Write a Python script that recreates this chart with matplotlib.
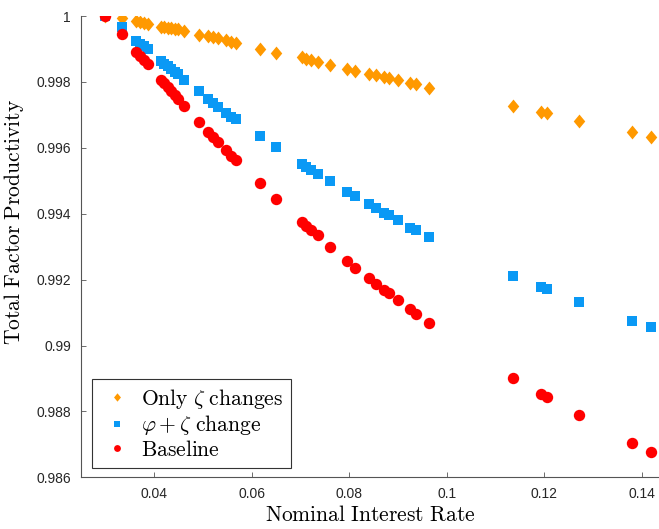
import matplotlib
matplotlib.use("Agg")
import matplotlib.pyplot as plt
from matplotlib.ticker import FormatStrFormatter
import numpy as np

plt.rcParams["mathtext.fontset"] = "cm"
plt.rcParams["font.family"] = ["Liberation Sans", "DejaVu Sans"]

# nominal interest rate (shared by all three series)
rate = [0.0300, 0.03355, 0.03641, 0.03713, 0.03795, 0.03877, 0.04143, 0.04215,
        0.04287, 0.04359, 0.04430, 0.04492, 0.04625, 0.04932, 0.05117, 0.05209,
        0.05311, 0.05486, 0.05588, 0.05680, 0.06172, 0.06500, 0.07033, 0.07125,
        0.07227, 0.07371, 0.07607, 0.07955, 0.08119, 0.08406, 0.08559, 0.08713,
        0.08826, 0.09010, 0.09246, 0.09379, 0.09645, 0.11363, 0.11924, 0.12047,
        0.12703, 0.13789, 0.14178]

tfp_zeta = [1.0, 0.99993, 0.99985, 0.99982, 0.99979, 0.99976, 0.99968, 0.99967,
            0.99965, 0.99964, 0.99962, 0.99961, 0.99954, 0.99942, 0.99939, 0.99936,
            0.99932, 0.99926, 0.99921, 0.99917, 0.99899, 0.99889, 0.99875, 0.99871,
            0.99866, 0.99860, 0.99851, 0.99839, 0.99833, 0.99825, 0.99821, 0.99815,
            0.99812, 0.99806, 0.99798, 0.99793, 0.99783, 0.99727, 0.99708, 0.99705,
            0.99682, 0.99647, 0.99633]

tfp_phi_zeta = [1.0, 0.99968, 0.99924, 0.99916, 0.99909, 0.99900, 0.99862, 0.99854,
                0.99847, 0.99839, 0.99831, 0.99824, 0.99806, 0.99771, 0.99748, 0.99736,
                0.99725, 0.99705, 0.99695, 0.99689, 0.99636, 0.99603, 0.99552, 0.99543,
                0.99534, 0.99520, 0.99500, 0.99466, 0.99453, 0.99428, 0.99416, 0.99403,
                0.99396, 0.99380, 0.99358, 0.99350, 0.99330, 0.99211, 0.99178, 0.99171,
                0.99132, 0.99074, 0.99055]

tfp_base = [1.0, 0.99945, 0.99892, 0.99880, 0.99868, 0.99854, 0.99807, 0.99797,
            0.99784, 0.99772, 0.99760, 0.99748, 0.99728, 0.99678, 0.99649, 0.99634,
            0.99619, 0.99592, 0.99576, 0.99564, 0.99492, 0.99446, 0.99375, 0.99364,
            0.99352, 0.99335, 0.99300, 0.99256, 0.99235, 0.99205, 0.99188, 0.99170,
            0.99158, 0.99137, 0.99112, 0.99097, 0.99069, 0.98902, 0.98854, 0.98844,
            0.98788, 0.98705, 0.98677]

labels = [r"$\mathrm{Only}\ \zeta\ \mathrm{changes}$",
          r"$\varphi+\zeta\ \mathrm{change}$",
          r"$\mathrm{Baseline}$"]

# slightly narrow diamond like MATLAB's
diamond = [(0, 1), (0.83, 0), (0, -1), (-0.83, 0), (0, 1)]

fig = plt.figure(figsize=(6.59, 5.29), dpi=100)
ax = fig.add_axes([0.1225, 0.0977, 0.8775, 0.872])

ax.plot(rate, tfp_zeta, linestyle="none", marker=diamond, markersize=10,
        color="#ff9900", markeredgewidth=0, label=labels[0])
ax.plot(rate, tfp_phi_zeta, linestyle="none", marker="s", markersize=6.5,
        color="#0a99f5", markeredgewidth=0, label=labels[1])
ax.plot(rate, tfp_base, linestyle="none", marker="o", markersize=8.2,
        color="#ff0000", markeredgewidth=0, label=labels[2])

ax.set_xlim(0.025, 0.1435)
ax.set_ylim(0.986, 1.0)
ax.set_xticks([0.04, 0.06, 0.08, 0.10, 0.12, 0.14])
ax.set_yticks(np.arange(0.986, 1.0001, 0.002))
ax.xaxis.set_major_formatter(FormatStrFormatter("%g"))
ax.yaxis.set_major_formatter(FormatStrFormatter("%g"))

for side in ["top", "right"]:
    ax.spines[side].set_visible(False)
for side in ["left", "bottom"]:
    ax.spines[side].set_color("#555555")
    ax.spines[side].set_linewidth(0.8)
ax.tick_params(direction="in", length=3.6, width=0.6, color="#555555",
               labelsize=10, labelcolor="#262626", pad=7)

ax.set_xlabel(r"$\mathrm{Nominal\ Interest\ Rate}$", fontsize=15.5)
ax.set_ylabel(r"$\mathrm{Total\ Factor\ Productivity}$", fontsize=15.5)
ax.xaxis.set_label_coords(0.5, -0.06)
ax.yaxis.set_label_coords(-0.095, 0.553)

leg = ax.legend(loc="lower left", bbox_to_anchor=(0.019, 0.0195), borderaxespad=0,
                fontsize=15.5, markerscale=0.6, handlelength=1.67, handletextpad=0.28,
                labelspacing=0.12, fancybox=False, framealpha=1,
                edgecolor="#333333", borderpad=0.35)
leg.get_frame().set_linewidth(0.8)

plt.savefig("out.png", format="png")
plt.close()
